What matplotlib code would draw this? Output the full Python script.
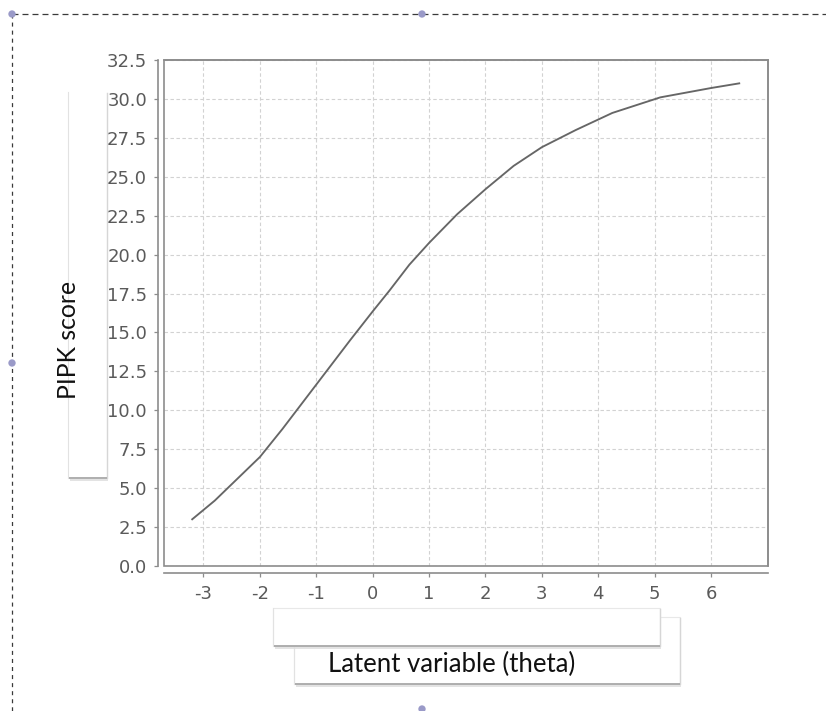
import matplotlib
matplotlib.use("Agg")
import matplotlib.pyplot as plt
from matplotlib.patches import Rectangle

# ---------------- data ----------------
theta = [-3.20, -2.80, -2.40, -2.00, -1.60, -1.20, -0.80, -0.40, 0.00, 0.30,
         0.65, 1.00, 1.50, 2.00, 2.50, 3.00, 3.60, 4.25, 5.10, 6.00, 6.50]
score = [3.00, 4.20, 5.60, 7.00, 8.80, 10.70, 12.60, 14.50, 16.35, 17.70,
         19.35, 20.75, 22.60, 24.20, 25.70, 26.90, 28.00, 29.10, 30.10, 30.70, 31.00]
x_ticks = [-3, -2, -1, 0, 1, 2, 3, 4, 5, 6]
x_tick_labels = ["-3", "-2", "-1", "0", "1", "2", "3", "4", "5", "6"]
y_ticks = [0.0, 2.5, 5.0, 7.5, 10.0, 12.5, 15.0, 17.5, 20.0, 22.5, 25.0, 27.5, 30.0, 32.5]
y_tick_labels = ["0.0", "2.5", "5.0", "7.5", "10.0", "12.5", "15.0", "17.5",
                 "20.0", "22.5", "25.0", "27.5", "30.0", "32.5"]
x_label = "Latent variable (theta)"
y_label = "PIPK score"

plt.rcParams["axes.unicode_minus"] = False
plt.rcParams["lines.scale_dashes"] = False

W, H = 826, 711
fig = plt.figure(figsize=(W / 100, H / 100), dpi=100)
fig.patch.set_facecolor("white")

# background overlay in pixel coordinates
bg = fig.add_axes([0, 0, 1, 1])
bg.set_xlim(0, W)
bg.set_ylim(H, 0)
bg.axis("off")
bg.set_zorder(0)

PX = 0.72  # points per pixel


def draw_box(x0, y0, x1, y1, z, top=True):
    bg.add_patch(Rectangle((x0, y0), x1 - x0, y1 - y0, facecolor="white",
                           edgecolor="#e8e8e8" if top else "none", lw=0.8, zorder=z))
    # left edge faint
    bg.plot([x0, x0], [y0, y1], color="#e2e2e2", lw=0.8, zorder=z + 0.1)
    # right edge slightly darker
    bg.plot([x1, x1], [y0 + 1, y1], color="#d6d6d6", lw=1.0, zorder=z + 0.1)
    # bottom shadow
    bg.plot([x0 + 1, x1], [y1, y1], color="#a8a8a8", lw=1.3, zorder=z + 0.1,
            solid_capstyle="butt")
    bg.plot([x0 + 2, x1 + 1], [y1 + 1.8, y1 + 1.8], color="#dedede", lw=1.2,
            zorder=z + 0.1, solid_capstyle="butt")


# y label box
draw_box(68, 92, 107, 478, 1, top=False)
# x label boxes (B under A)
draw_box(294, 617, 680, 684, 1)
draw_box(273, 608, 660, 646, 2)

# dashed selection border
bg.plot([12, W], [14, 14], color="#3a3a3a", lw=0.9, ls=(0, (4.3, 2.9)), zorder=5)
bg.plot([12, 12], [14, H], color="#3a3a3a", lw=0.9, ls=(0, (2.9, 2.9)), zorder=5)
bg.scatter([12, 422, 12, 422], [14, 14, 363, 709], s=28, color="#9a9ac8",
           edgecolors="none", zorder=6, clip_on=False)

# axis titles
ty = bg.text(69, 340, y_label, rotation=90, ha="center", va="center",
             fontsize=18, family="Lato", color="#111111", zorder=10)
tx = bg.text(451.5, 664, x_label, ha="center", va="center",
             fontsize=18, family="Lato", color="#111111", zorder=10)

# ---------------- main chart ----------------
ax = fig.add_axes([164 / W, 1 - 566 / H, (768 - 164) / W, (566 - 60) / H])
ax.set_zorder(2)
ax.set_facecolor("white")
ax.plot(theta, score, color="#666666", lw=1.35, zorder=4, solid_joinstyle="round")
ax.set_xlim(-3.70, 7.01)
ax.set_ylim(0, 32.5)
ax.set_xticks(x_ticks, labels=x_tick_labels)
ax.set_yticks(y_ticks, labels=y_tick_labels)
ax.grid(True, color="#d2d2d2", lw=0.8, ls=(0, (2.5, 1.8)))
ax.set_axisbelow(True)

frame_c = "#8c8c8c"
for s in ["top", "right"]:
    ax.spines[s].set_color(frame_c)
    ax.spines[s].set_linewidth(1.2)
ax.spines["left"].set_position(("outward", 6 * PX))
ax.spines["bottom"].set_position(("outward", 7 * PX))
for s in ["left", "bottom"]:
    ax.spines[s].set_color(frame_c)
    ax.spines[s].set_linewidth(1.2)
ax.add_patch(Rectangle((0, 0), 1, 1, transform=ax.transAxes, fill=False,
                       ec=frame_c, lw=1.2, clip_on=False, zorder=5))

ax.tick_params(axis="both", direction="out", length=4 * PX, width=0.9,
               color=frame_c, labelcolor="#5a5a5a", labelsize=13)
ax.tick_params(axis="y", pad=5)
ax.tick_params(axis="x", pad=5.5)

# fit title fonts to measured widths
fig.canvas.draw()
r = fig.canvas.get_renderer()
for t, target in [(ty, 118), (tx, 247)]:
    ext = t.get_window_extent(r)
    cur = max(ext.width, ext.height)
    t.set_fontsize(t.get_fontsize() * target / cur)

fig.savefig("out.png", dpi=100, facecolor="white")
